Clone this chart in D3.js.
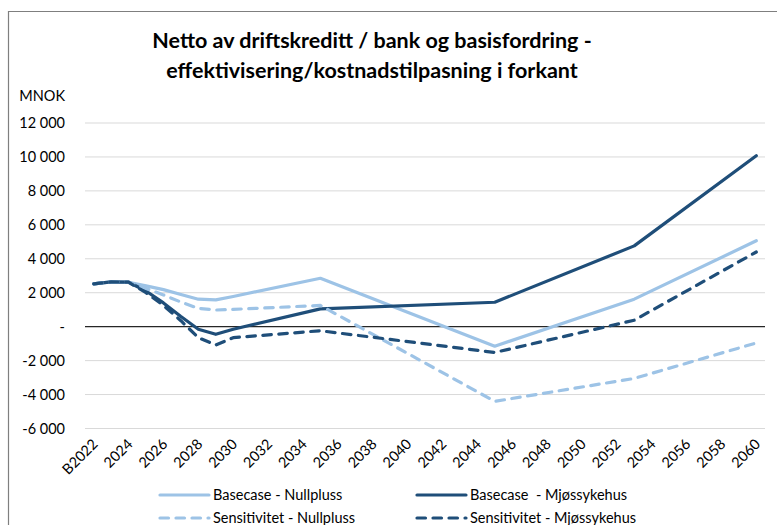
<!DOCTYPE html>
<html>
<head>
<meta charset="utf-8">
<script src="https://cdn.jsdelivr.net/npm/d3@7"></script>
<style>
  body { margin: 0; background: #fff; }
  svg { display: block; font-family: Lato, 'Open Sans', sans-serif; }
</style>
</head>
<body>
<div id="chart"></div>
<script>
// Data (MNOK) at the years where the lines bend
const years = [2022, 2023, 2024, 2025, 2026, 2027, 2028, 2029, 2030, 2035, 2045, 2053, 2060]
const baseNullpluss = [2520, 2640, 2620, 2400, 2180, 1900, 1620, 1580, 1780, 2850, -1150, 1620, 5060]
const baseMjos = [2520, 2640, 2620, 2100, 1400, 600, -150, -450, -150, 1050, 1440, 4760, 10070]
const sensNullpluss = [2520, 2640, 2620, 2250, 1870, 1450, 1080, 980, 1020, 1250, -4400, -3050, -960]
const sensMjos = [2520, 2640, 2620, 2000, 1250, 350, -650, -1080, -650, -240, -1520, 380, 4400]

const tickYears = d3.range(2022, 2061, 2)
const yTicks = [-6000, -4000, -2000, 0, 2000, 4000, 6000, 8000, 10000, 12000]

const seriesNames = ['Basecase - Nullpluss', 'Basecase  - Mjøssykehus', 'Sensitivitet - Nullpluss', 'Sensitivitet - Mjøssykehus']
const seriesValues = [baseNullpluss, baseMjos, sensNullpluss, sensMjos]
const seriesColors = ['#9dc3e6', '#1f4e79', '#9dc3e6', '#1f4e79']
const seriesDashed = [false, false, true, true]

const titleLines = ['Netto av driftskreditt / bank og basisfordring -', 'effektivisering/kostnadstilpasning i forkant']

// Dimensions
const dimensions = {
  width: 777,
  height: 525,
  plot: { left: 85, right: 765, top: 123, bottom: 428.5 }
}

const svg = d3.select('#chart')
  .append('svg')
  .attr('width', dimensions.width)
  .attr('height', dimensions.height)

// chart frame (runs off the right and bottom)
svg.append('path')
  .attr('d', 'M8.5,525 V11.5 H777')
  .attr('fill', 'none')
  .attr('stroke', '#7f7f7f')
  .attr('stroke-width', 1.2)

// Scales
const xScale = d3.scaleLinear()
  .domain([2021.5, 2060.5])
  .range([dimensions.plot.left, dimensions.plot.right])

const yScale = d3.scaleLinear()
  .domain([-6000, 12000])
  .range([dimensions.plot.bottom, dimensions.plot.top])

const fmt = (v) => v === 0 ? '-' : d3.format(',')(v).replace(/,/g, ' ').replace('−', '-')

// Gridlines
svg.append('g')
  .selectAll('line')
  .data(yTicks.filter(d => d !== 0))
  .join('line')
  .attr('x1', dimensions.plot.left)
  .attr('x2', dimensions.plot.right)
  .attr('y1', d => yScale(d))
  .attr('y2', d => yScale(d))
  .attr('stroke', '#d9d9d9')
  .attr('stroke-width', 1)

// Y axis labels
const yAxis = d3.axisLeft(yScale)
  .tickValues(yTicks)
  .tickFormat(fmt)
  .tickSize(0)
  .tickPadding(0)

const yAxisGroup = svg.append('g')
  .attr('transform', 'translate(65,0)')
  .call(yAxis)
yAxisGroup.select('.domain').remove()
yAxisGroup.selectAll('text')
  .attr('font-family', 'Lato, sans-serif')
  .attr('font-size', 14.5)
  .attr('fill', '#000')

svg.append('text')
  .attr('x', 65)
  .attr('y', 101)
  .attr('text-anchor', 'end')
  .attr('font-size', 14.5)
  .text('MNOK')

// X axis labels (rotated)
svg.append('g')
  .selectAll('text')
  .data(tickYears)
  .join('text')
  .attr('transform', d => `translate(${xScale(d) + 5},${445}) rotate(-45)`)
  .attr('text-anchor', 'end')
  .attr('font-size', 14.5)
  .text(d => d === 2022 ? 'B2022' : d)

// Lines
const line = d3.line()
  .x((d, i) => xScale(years[i]))
  .y(d => yScale(d))

svg.append('g')
  .selectAll('path')
  .data(seriesValues)
  .join('path')
  .attr('d', d => line(d))
  .attr('fill', 'none')
  .attr('stroke', (d, i) => seriesColors[i])
  .attr('stroke-width', 3.2)
  .attr('stroke-linejoin', 'round')
  .attr('stroke-linecap', 'round')
  .attr('stroke-dasharray', (d, i) => seriesDashed[i] ? '8.5,7.5' : null)

// Zero line on top of the grid
svg.append('line')
  .attr('x1', dimensions.plot.left)
  .attr('x2', dimensions.plot.right)
  .attr('y1', yScale(0))
  .attr('y2', yScale(0))
  .attr('stroke', '#262626')
  .attr('stroke-width', 1.2)
  .lower()
svg.select('path').lower()

// Title
svg.append('g')
  .selectAll('text')
  .data(titleLines)
  .join('text')
  .attr('x', 372)
  .attr('y', (d, i) => 48 + i * 30)
  .attr('text-anchor', 'middle')
  .attr('font-size', 21.5)
  .attr('font-weight', 'bold')
  .text(d => d)

// Legend
const legendX = [160, 417]
const legendY = [495, 518]
const legend = svg.append('g')
  .selectAll('g')
  .data(seriesNames)
  .join('g')
  .attr('transform', (d, i) => `translate(${legendX[i % 2]},${legendY[Math.floor(i / 2)]})`)

legend.append('line')
  .attr('x1', 0)
  .attr('x2', 49)
  .attr('stroke', (d, i) => seriesColors[i])
  .attr('stroke-width', 3.2)
  .attr('stroke-linecap', 'round')
  .attr('stroke-dasharray', (d, i) => seriesDashed[i] ? '8.5,7.5' : null)

legend.append('text')
  .attr('x', 53)
  .attr('y', 5)
  .attr('font-size', 14.5)
  .attr('xml:space', 'preserve')
  .style('white-space', 'pre')
  .text(d => d)
</script>
</body>
</html>
